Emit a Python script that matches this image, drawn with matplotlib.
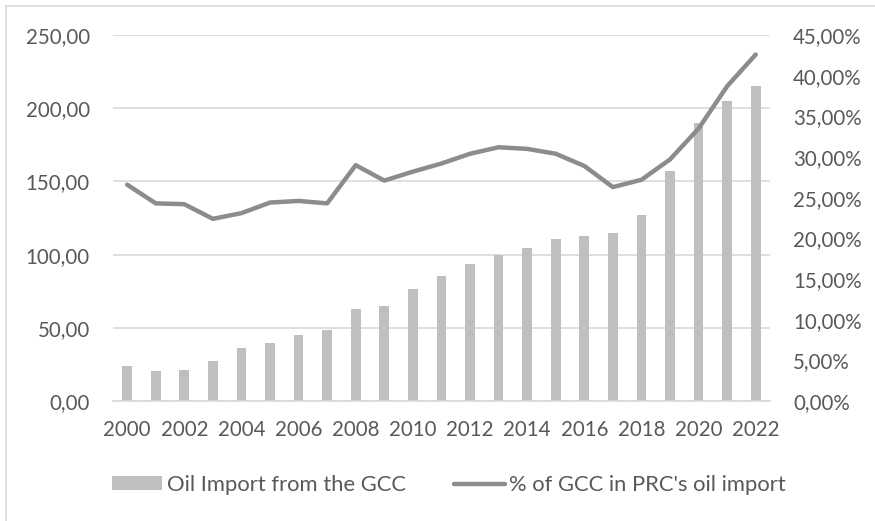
import numpy as np
import matplotlib
matplotlib.use("Agg")
from matplotlib import pyplot as plt
from matplotlib.patches import Patch
from matplotlib.lines import Line2D
from matplotlib.ticker import FuncFormatter

# data
years = list(range(2000, 2023))
oil_import = [24.0, 20.3, 21.0, 27.2, 36.1, 39.3, 44.8, 48.2, 62.6, 65.1, 76.3, 85.2,
              93.6, 99.8, 104.8, 111.0, 113.0, 115.0, 127.0, 156.8, 190.0, 204.8, 214.9]
gcc_share = [26.6, 24.3, 24.2, 22.4, 23.1, 24.4, 24.6, 24.3, 29.0, 27.1, 28.2, 29.2,
             30.4, 31.2, 31.0, 30.4, 28.9, 26.3, 27.2, 29.7, 33.5, 38.7, 42.6]
bar_label = "Oil Import from the GCC"
line_label = "% of GCC in PRC's oil import"

text_col = "#595959"
grid_col = "#d9d9d9"
bar_col = "#bfbfbf"
line_col = "#8c8c8c"

plt.rcParams['font.family'] = ['Lato', 'DejaVu Sans']
plt.rcParams['font.size'] = 14.5

fig = plt.figure(figsize=(8.75, 5.21), dpi=100)
ax = fig.add_axes([0.129, 0.2303, 0.751, 0.7025])
ax2 = ax.twinx()

x = np.arange(len(years))
ax.bar(x, oil_import, width=0.34, color=bar_col, zorder=2)
ax2.plot(x, gcc_share, color=line_col, lw=3.2, solid_capstyle='round',
         solid_joinstyle='round', zorder=3)

ax.set_xlim(-0.5, len(years) - 0.5)
ax.set_ylim(0, 250)
ax2.set_ylim(0, 45)
ax.set_yticks(np.arange(0, 251, 50))
ax2.set_yticks(np.arange(0, 46, 5))
ax.yaxis.set_major_formatter(FuncFormatter(lambda v, p: f"{v:.2f}".replace(".", ",")))
ax2.yaxis.set_major_formatter(FuncFormatter(lambda v, p: f"{v:.2f}".replace(".", ",") + "%"))
ax.set_xticks(x[::2])
ax.set_xticklabels([str(y) for y in years[::2]])

ax.grid(axis='y', color=grid_col, lw=1.2, zorder=0)
ax.set_axisbelow(True)
for a in (ax, ax2):
    for s in a.spines.values():
        s.set_visible(False)
    a.tick_params(length=0, colors=text_col, labelsize=14.8)
ax.spines['bottom'].set_visible(True)
ax.spines['bottom'].set_color(grid_col)
ax.spines['bottom'].set_linewidth(1.2)
ax.tick_params(axis='y', pad=16.5)
ax.tick_params(axis='x', pad=14)
ax2.tick_params(axis='y', pad=16.5)

handles = [Patch(facecolor=bar_col, edgecolor='none'),
           Line2D([0], [0], color=line_col, lw=3.2, solid_capstyle='round')]
leg = fig.legend(handles, [bar_label, line_label], loc='center',
                 bbox_to_anchor=(0.513, 1 - 485 / 521), ncol=2, frameon=False,
                 handlelength=2.3, handleheight=0.6, handletextpad=0.2,
                 columnspacing=2.2, fontsize=15.8)
for t in leg.get_texts():
    t.set_color(text_col)

# chart border (left and top edges visible)
fig.add_artist(Line2D([6 / 875, 6 / 875], [0, 1 - 6 / 521], color=grid_col, lw=1.2,
                      transform=fig.transFigure))
fig.add_artist(Line2D([6 / 875, 1], [1 - 6 / 521, 1 - 6 / 521], color=grid_col, lw=1.2,
                      transform=fig.transFigure))

fig.savefig("out.png", dpi=100)
